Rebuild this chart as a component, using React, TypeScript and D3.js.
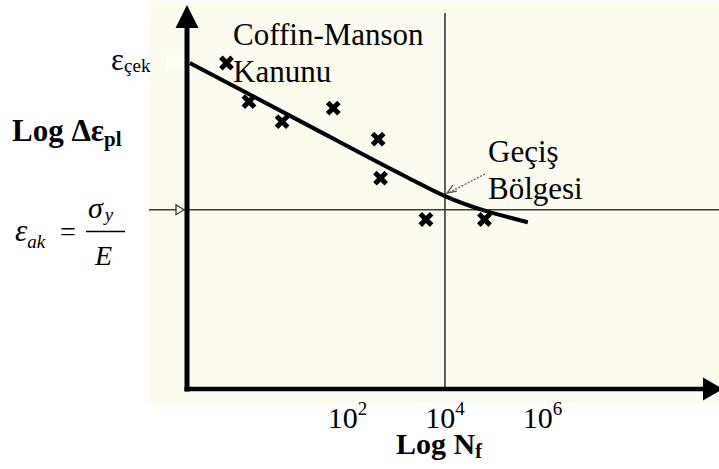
import React from 'react';
import * as d3 from 'd3';

// log10 N_f positions of the labelled cycle ticks
const cycleTicks = [2, 4, 6];

// test points (log10 N_f, log10 Δε_pl)
const markerLogN = [-0.48, -0.02, 0.66, 1.71, 2.63, 2.68, 3.61, 4.81];
const markerLogStrain = [0.0, -0.71, -1.08, -0.83, -1.4, -2.12, -2.88, -2.88];

// Coffin-Manson fit line
const fitLogN = [-1.23, 1.03, 3.28, 4.0, 5.7];
const fitLogStrain = [0.0, -1.07, -2.13, -2.45, -2.93];

const transitionLogN = 4; // Geçiş bölgesi
const yieldLogStrain = -2.7; // ε_ak = σy / E
const tensileLogStrain = 0; // ε_çek

const W = 719;
const H = 469;
const FONT = "'Liberation Serif', 'Times New Roman', serif";

const App = () => {
  const x = d3.scaleLinear().domain([-1.29, 9.62]).range([187, 719]);
  const y = d3.scaleLinear().domain([-6, 0]).range([389, 63]);

  const x0 = x(-1.29);
  const y0 = y(-6);

  const fitPts: [number, number][] = fitLogN.map((n, i) => [x(n), y(fitLogStrain[i])]);
  const fitLine = d3
    .line<[number, number]>()
    .x(d => d[0])
    .y(d => d[1])
    .curve(d3.curveMonotoneX)(fitPts);

  const marker = d3.symbol().type(d3.symbolX).size(85)();

  const tx = x(transitionLogN);
  const ty = y(-2.45);
  const yy = y(yieldLogStrain);

  return (
    <svg
      width={W}
      height={H}
      style={{ position: 'absolute', left: 0, top: 0, background: '#fff', fontFamily: FONT }}
    >
      {/* cream plot panel */}
      <rect x={149} y={1} width={W - 149} height={402} fill="#fdfbef" />
      <rect x={167} y={y(tensileLogStrain) - 8} width={16} height={13} fill="#fff" />

      {/* reference lines */}
      <line x1={tx} x2={tx} y1={13} y2={y0} stroke="#3a3a3a" strokeWidth={1.6} />
      <line x1={149} x2={W} y1={yy} y2={yy} stroke="#3a3a3a" strokeWidth={1.6} />
      <path
        d={`M${x0 - 11},${yy - 5} L${x0 - 3},${yy} L${x0 - 11},${yy + 5} Z`}
        fill="#fdfbef"
        stroke="#3a3a3a"
        strokeWidth={1.3}
      />

      {/* axes */}
      <line x1={x0} x2={x0} y1={26} y2={y0 + 2.5} stroke="#000" strokeWidth={5} />
      <path d={`M${x0},5 L${x0 + 11.5},28 L${x0 - 11.5},28 Z`} fill="#000" />
      <line x1={x0 - 2.5} x2={704} y1={y0} y2={y0} stroke="#000" strokeWidth={4.5} />
      <path d={`M723,${y0} L703,${y0 - 11.5} L703,${y0 + 11.5} Z`} fill="#000" />

      {/* fit line */}
      <path d={fitLine ?? ''} fill="none" stroke="#000" strokeWidth={4} />

      {/* data markers */}
      {markerLogN.map((n, i) => (
        <path
          key={i}
          d={marker ?? ''}
          transform={`translate(${x(n)},${y(markerLogStrain[i])})`}
          fill="none"
          stroke="#000"
          strokeWidth={5}
        />
      ))}

      {/* transition arrow */}
      <line
        x1={485}
        y1={174}
        x2={tx + 3}
        y2={ty - 3}
        stroke="#555"
        strokeWidth={1.2}
        strokeDasharray="2,1.5"
      />
      <path
        d={`M${tx + 12},${ty - 5} L${tx + 2},${ty - 3} L${tx + 8},${ty - 11}`}
        fill="none"
        stroke="#555"
        strokeWidth={1.2}
      />

      {/* annotations */}
      <text x={233} y={45} fontSize={31} fill="#000">Coffin-Manson</text>
      <text x={233} y={82} fontSize={31} fill="#000">Kanunu</text>
      <text x={488} y={162} fontSize={31} fill="#000">Geçiş</text>
      <text x={488} y={199} fontSize={31} fill="#000">Bölgesi</text>

      {/* y labels */}
      <text x={111} y={70} fontSize={31} fill="#000">
        ε<tspan fontSize={19} dy={2}>çek</tspan>
      </text>
      <text x={12} y={141} fontSize={31} fontWeight="bold" fill="#000">
        Log Δε<tspan fontSize={21} dy={5}>pl</tspan>
      </text>

      {/* ε_ak = σy / E */}
      <g fill="#000" fontStyle="italic">
        <text x={15} y={241} fontSize={31}>ε<tspan fontSize={19} dy={7}>ak</tspan></text>
        <text x={60} y={241} fontSize={28} fontStyle="normal">=</text>
        <text x={88} y={218} fontSize={30}>σ<tspan fontSize={19} dx={2} dy={3}>y</tspan></text>
        <text x={95} y={265} fontSize={28}>E</text>
      </g>
      <line x1={86} x2={125} y1={231.5} y2={231.5} stroke="#000" strokeWidth={1.5} />

      {/* x tick labels */}
      {cycleTicks.map(t => (
        <text key={t} x={x(t)} y={428} fontSize={30} textAnchor="middle" fill="#000">
          10<tspan fontSize={19} dy={-13}>{t}</tspan>
        </text>
      ))}
      <text x={396} y={454} fontSize={30} fontWeight="bold" fill="#000">
        Log N<tspan fontSize={20} dy={4}>f</tspan>
      </text>
    </svg>
  );
};

export default App;
